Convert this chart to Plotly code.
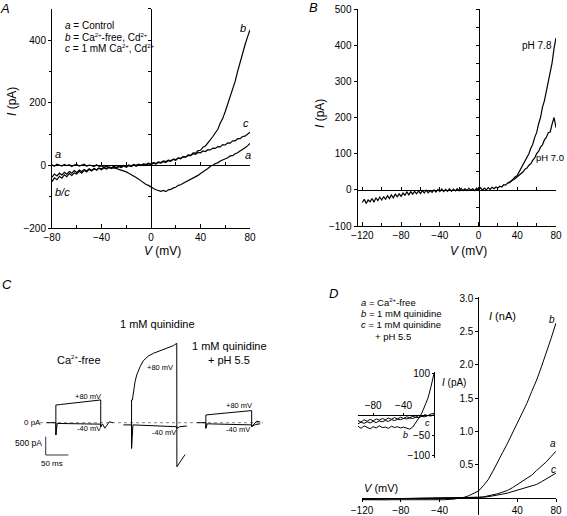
import plotly.graph_objects as go

W, H = 567, 516
FONT = "Liberation Sans, Arial, sans-serif"

# ---------------- DATA ----------------
# Panel A: I-V curves (pA) at V = -80..80 mV, 2 mV steps
V_A = list(range(-80, 81, 2))
A_control = [2, -3, 4, 0, -2, 3, -1, 2, -4, 1, 3, -2, 0, 4, -3, 1, -1, -4, 2, -3, -2,
             -6, -3, -8, -7, -8, -10, -13, -15, -19, -21,
             -25, -29, -33, -39, -44, -50, -55, -61, -64, -70,
             -74, -78, -80, -83, -80, -84, -78, -77, -72, -70,
             -64, -62, -57, -53, -48, -46, -40, -36, -32, -26,
             -21, -15, -10, -3, 0, 6, 8, 14, 17, 22,
             24, 30, 31, 37, 40, 46, 50, 56, 62, 70]
A_cafree = [-52, -40, -46, -35, -41, -30, -36, -26, -32, -24, -28,
            -19, -25, -16, -21, -13, -18, -11, -16, -9, -14,
            -8, -12, -6, -10, -5, -9, -4, -7, -2, -6,
            -1, -4, 1, -3, 2, -1, 3, 0, 5, 2,
            7, 4, 9, 7, 12, 9, 15, 13, 19, 16,
            23, 21, 28, 26, 33, 32, 40, 39, 47, 48,
            58, 62, 72, 80, 92, 104, 115, 135, 150, 172,
            195, 215, 245, 268, 300, 330, 355, 385, 410, 432]
A_1mMCa = [-38, -28, -34, -25, -31, -22, -28, -20, -25, -17, -23,
           -15, -20, -13, -18, -11, -16, -10, -14, -8, -12,
           -6, -10, -5, -8, -3, -7, -2, -5, 0, -4,
           1, -2, 3, 0, 4, 1, 5, 3, 7, 4,
           9, 6, 11, 9, 14, 12, 17, 15, 20, 18,
           24, 22, 28, 26, 32, 31, 37, 35, 41, 40,
           46, 44, 50, 49, 55, 54, 60, 59, 66, 65,
           72, 71, 78, 78, 85, 85, 92, 93, 100, 106]

# Panel B: pH 7.8 (full range) and pH 7.0 (diverging part), pA
V_B78 = list(range(-120, 81, 2))
B_pH78 = [-35, -26, -38, -28, -33, -24, -34, -22, -30, -20, -28, -19, -26, -16, -24, -14, -22, -12, -19, -11,
          -18, -9, -15, -6, -14, -5, -12, -4, -11, -3, -10, -2, -9, -1, -8, -2, -7, 0, -6, 1,
          -5, 2, -5, 1, -4, 3, -4, 2, -3, 3, -3, 4, -2, 3, -2, 4, -1, 3, -2, 5,
          0, 6, -1, 5, 0, 6, 1, 7, 3, 8, 5, 10, 8, 14, 13, 19, 20, 26, 29, 36,
          40, 50, 56, 68, 76, 90, 100, 115, 126, 145, 158, 182, 200, 228, 246, 272, 296, 325, 352, 392, 420]
V_B70 = list(range(30, 81, 2))
B_pH70 = [18, 21, 24, 28, 31, 36, 40, 46, 50, 57, 60, 68, 72, 82, 88, 100, 106, 118, 124, 138,
          145, 158, 160, 182, 200, 172]

# Panel C: current traces (time ms, current pA)
C_cafree_m40_t = [15, 35, 35, 38, 134, 134, 138, 143, 153, 161]
C_cafree_m40_i = [0, 0, -335, -20, -40, -110, -35, -150, 25, 0]
C_cafree_p80_t = [35, 35, 45, 65, 85, 105, 125, 134, 134]
C_cafree_p80_i = [-335, 482, 495, 525, 550, 575, 600, 620, -110]
C_quin_m40_t = [184, 202, 202, 205, 302, 302, 308, 324]
C_quin_m40_i = [-60, -60, -700, -60, -110, -160, -110, -90]
C_quin_p80_t = [202, 202, 203.8, 206, 209.7, 213.4, 220.8, 228, 239, 250, 265, 279.7, 294, 301.7, 302, 320]
C_quin_p80_i = [-700, 618, 618, 845, 1117, 1300, 1526, 1690, 1817, 1890, 1962, 2027, 2098, 2163, -1200, -870]
C_ph55_m40_t = [347, 366, 366, 369, 467, 467, 476, 486]
C_ph55_m40_i = [0, 0, -153, -30, -60, -100, -50, -30]
C_ph55_p80_t = [366, 366, 380, 400, 420, 440, 467, 467, 478, 486]
C_ph55_p80_i = [-153, 210, 228, 252, 278, 300, 330, -109, 40, 20]
C_zero_t = [0, 492]
SCALE_PA = 500
SCALE_MS = 50

# Panel D: I-V (nA), V = -120..80, 5 mV steps
V_D = list(range(-120, 81, 5))
D_a = [-0.022, -0.021, -0.021, -0.02, -0.02, -0.019, -0.018, -0.018, -0.017, -0.016, -0.015,
       -0.014, -0.013, -0.012, -0.011, -0.01, -0.009, -0.008, -0.007, -0.006, -0.005,
       -0.003, 0.0, 0.003, 0.006, 0.012, 0.025, 0.04, 0.06, 0.085, 0.11, 0.15, 0.2, 0.24,
       0.3, 0.34, 0.41, 0.47, 0.54, 0.62, 0.7]
D_b = [-0.03, -0.032, -0.03, -0.031, -0.03, -0.032, -0.03, -0.031, -0.03, -0.031, -0.03,
       -0.032, -0.03, -0.031, -0.03, -0.031, -0.03,
       -0.03, -0.028, -0.02, -0.008, 0.005, 0.03, 0.062, 0.1, 0.18, 0.27, 0.4, 0.55, 0.68,
       0.82, 0.96, 1.12, 1.27, 1.42, 1.6, 1.77, 1.97, 2.17, 2.4, 2.63]
D_c = [-0.024, -0.023, -0.023, -0.022, -0.021, -0.021, -0.02, -0.019, -0.018, -0.017, -0.016,
       -0.015, -0.014, -0.013, -0.012, -0.011, -0.01, -0.009, -0.008, -0.007, -0.006,
       -0.004, -0.002, 0.0, 0.003, 0.008, 0.015, 0.025, 0.04, 0.055, 0.07, 0.09, 0.11, 0.13,
       0.155, 0.18, 0.2, 0.24, 0.28, 0.32, 0.37]
# Inset (pA), V = -100..0, 4 mV steps
V_Di = list(range(-100, 1, 4))
Di_a = [-14, -18, -12, -16, -11, -15, -10, -13, -9, -12, -8, -11, -7, -10, -6, -9, -5, -7, -4, -6,
        -2, -4, 0, -2, 2, 3]
Di_b = [-28, -33, -27, -31, -34, -29, -32, -27, -31, -30, -33, -28, -31, -29, -32, -30,
        -32, -35, -30, -20, -8, 4, 20, 40, 68, 100]
Di_c = [-22, -18, -21, -17, -20, -16, -19, -15, -17, -14, -16, -12, -14, -11, -12, -9, -10, -8,
        -9, -6, -7, -4, -5, -2, -3, 0]


# ---------------- helpers ----------------
def px(x):
    return x / W


def py(y):
    return 1 - y / H


def ypos(val, rng, top, bot):
    pix = bot - (val - rng[0]) / (rng[1] - rng[0]) * (bot - top)
    return py(pix)


def xpos(val, rng, left, right):
    pix = left + (val - rng[0]) / (rng[1] - rng[0]) * (right - left)
    return px(pix)


fig = go.Figure()


def line(x, y, xa, ya, width=1, color="black", dash=None):
    fig.add_trace(go.Scatter(x=x, y=y, xaxis=xa, yaxis=ya, mode="lines",
                             line=dict(color=color, width=width, dash=dash),
                             showlegend=False, hoverinfo="skip"))


def dummy(xa, ya):
    fig.add_trace(go.Scatter(x=[None], y=[None], xaxis=xa, yaxis=ya, mode="lines",
                             showlegend=False, hoverinfo="skip"))


# Panel A
line(V_A, A_control, "x", "y", width=1.2)
line(V_A, A_cafree, "x", "y", width=1.2)
line(V_A, A_1mMCa, "x", "y", width=1.2)
dummy("x2", "y")
dummy("x", "y2")
# Panel B
line(V_B78, B_pH78, "x3", "y3", width=1.2)
line(V_B70, B_pH70, "x3", "y3", width=1.2)
dummy("x4", "y3")
dummy("x3", "y4")
# Panel C
line(C_zero_t, [0, 0], "x5", "y5", width=0.8, color="#666", dash="dot")
for t, i in [(C_cafree_m40_t, C_cafree_m40_i), (C_cafree_p80_t, C_cafree_p80_i),
             (C_quin_m40_t, C_quin_m40_i), (C_quin_p80_t, C_quin_p80_i),
             (C_ph55_m40_t, C_ph55_m40_i), (C_ph55_p80_t, C_ph55_p80_i)]:
    line(t, i, "x5", "y5")
sb_t, sb_i = 12.6, -380
line([sb_t, sb_t, sb_t + SCALE_MS], [sb_i, sb_i - SCALE_PA, sb_i - SCALE_PA], "x5", "y5", width=0.8)
# Panel D
line(V_D, D_a, "x6", "y6")
line(V_D, D_b, "x6", "y6")
line(V_D, D_c, "x6", "y6")
line(V_Di, Di_a, "x7", "y7")
line(V_Di, Di_c, "x7", "y7")
line(V_Di, Di_b, "x7", "y7")

base = dict(showgrid=False, zeroline=False, showline=True, linecolor="black", linewidth=1,
            tickcolor="black", tickwidth=1, ticklen=3, tickfont=dict(size=10, color="black"),
            automargin=False)

# Panel A geometry
A_x = [-80, 80]; A_l, A_r = 52, 250
A_y = [-200, 500]; A_t, A_b = 8.7, 228
# Panel B geometry
B_x = [-125, 80]; B_l, B_r = 357.5, 556
B_y = [-100, 500]; B_t, B_b = 9, 226
# Panel C geometry
C_x = [0, 492]; C_l, C_r = 40, 263
C_y = [-1300, 2300]; C_t, C_b = 338.3, 470.4
# Panel D geometry
D_x = [-120, 80]; D_l, D_r = 362, 556
D_y = [-0.26, 3.02]; D_t, D_b = 297, 515
I_x = [-100, 0]; I_l, I_r = 358, 434
I_y = [-105, 105]; I_t, I_b = 371.5, 458

layout = dict(
    xaxis=dict(base, domain=[px(A_l), px(A_r)], range=A_x, anchor="y",
               tickvals=[-80, -40, 0, 40, 80], ticks="inside", ticklen=4,
               minor=dict(tickvals=[-60, -20, 20, 60], ticks="inside", ticklen=3, tickcolor="black")),
    yaxis=dict(base, domain=[py(A_b), py(A_t)], range=A_y, anchor="x",
               tickvals=[-200, 0, 200, 400], ticks="outside",
               minor=dict(tickvals=[-100, 100, 300], ticks="outside", ticklen=2, tickcolor="black")),
    xaxis2=dict(base, overlaying="x", range=A_x, anchor="free",
                position=ypos(0, A_y, A_t, A_b), ticks="inside", tickmode="linear",
                tick0=0, dtick=20, showticklabels=False),
    yaxis2=dict(base, overlaying="y", range=A_y, anchor="free",
                position=xpos(0, A_x, A_l, A_r), ticks="outside", tickmode="linear",
                tick0=0, dtick=100, showticklabels=False),
    xaxis3=dict(base, domain=[px(B_l), px(B_r)], range=B_x, anchor="y3",
                tickvals=[-120, -80, -40, 0, 40, 80], ticks="inside", ticklen=4,
                minor=dict(tickvals=[-100, -60, -20, 20, 60], ticks="inside", ticklen=3, tickcolor="black")),
    yaxis3=dict(base, domain=[py(B_b), py(B_t)], range=B_y, anchor="x3",
                tickvals=[-100, 0, 100, 200, 300, 400, 500], ticks="outside"),
    xaxis4=dict(base, overlaying="x3", range=B_x, anchor="free",
                position=ypos(0, B_y, B_t, B_b), ticks="inside", tickmode="linear",
                tick0=0, dtick=20, showticklabels=False),
    yaxis4=dict(base, overlaying="y3", range=B_y, anchor="free",
                position=xpos(0, B_x, B_l, B_r), ticks="outside", tickmode="linear",
                tick0=0, dtick=50, showticklabels=False),
    xaxis5=dict(domain=[px(C_l), px(C_r)], range=C_x, anchor="y5", visible=False),
    yaxis5=dict(domain=[py(C_b), py(C_t)], range=C_y, anchor="x5", visible=False),
    xaxis6=dict(base, domain=[px(D_l), px(D_r)], range=D_x, anchor="free",
                position=ypos(0, D_y, D_t, D_b),
                tickvals=[-120, -80, -40, 40, 80], ticks="outside"),
    yaxis6=dict(base, domain=[py(D_b), py(D_t)], range=D_y, anchor="free",
                position=xpos(0, D_x, D_l, D_r),
                tickvals=[0.5, 1.0, 1.5, 2.0, 2.5, 3.0],
                ticktext=["0.5", "1.0", "1.5", "2.0", "2.5", "3.0"], ticks="outside"),
    xaxis7=dict(base, domain=[px(I_l), px(I_r)], range=I_x, anchor="free",
                position=ypos(0, I_y, I_t, I_b), side="top",
                tickvals=[-80, -40], ticks="outside", ticklen=2),
    yaxis7=dict(base, domain=[py(I_b), py(I_t)], range=I_y, anchor="free",
                position=px(I_r), side="left",
                tickvals=[100, -50, -100], ticks="outside", ticklen=2),
)

anns = []

SUP = '<sup><span style="font-size:6px">2+</span></sup>'


def ann(x, y, text, size=11, xanchor="center", angle=0, italic=False):
    if italic:
        text = "<i>" + text + "</i>"
    anns.append(dict(x=px(x), y=py(y), xref="paper", yref="paper", text=text,
                     showarrow=False, xanchor=xanchor, yanchor="middle", textangle=angle,
                     font=dict(size=size, color="black", family=FONT)))


# Panel A text
ann(5, 8, "A", 13, italic=True)
ann(63, 26, "<i>a</i> = Control", 10, "left")
ann(63, 37, "<i>b</i> = Ca" + SUP + "-free, Cd" + SUP, 10, "left")
ann(63, 49, "<i>c</i> = 1 mM Ca" + SUP + ", Cd" + SUP, 10, "left")
ann(58, 154, "a", 11, italic=True)
ann(62, 192, "b/c", 11, italic=True)
ann(243, 28, "b", 11, italic=True)
ann(246, 123, "c", 11, italic=True)
ann(248, 155, "a", 11, italic=True)
ann(12, 102, "<i>I</i> (pA)", 12, angle=-90)
ann(162, 251, "<i>V</i> (mV)", 12)
# Panel B text
ann(313, 7, "B", 13, italic=True)
ann(320, 114, "<i>I</i> (pA)", 12, angle=-90)
ann(468, 251, "<i>V</i> (mV)", 12)
ann(537, 45, "pH 7.8", 10)
ann(566, 157, "pH 7.0", 9.5, "right")
# Panel C text
ann(7, 284, "C", 13, italic=True)
ann(157, 324, "1 mM quinidine", 11)
ann(79, 360, "Ca" + SUP + "-free", 11)
ann(229, 346, "1 mM quinidine", 11)
ann(229, 360, "+ pH 5.5", 11)
ann(88, 396, "+80 mV", 7.5)
ann(160, 367, "+80 mV", 7.5)
ann(239, 405, "+80 mV", 7.5)
ann(89, 428, "-40 mV", 7.5)
ann(164, 432, "-40 mV", 7.5)
ann(238, 429, "-40 mV", 7.5)
ann(32, 422, "0 pA", 8)
ann(28, 443, "500 pA", 8.5)
ann(52, 463, "50 ms", 8)
# Panel D text
ann(333, 293, "D", 13, italic=True)
ann(359, 302, "<i>a</i> = Ca" + SUP + "-free", 9.5, "left")
ann(359, 313, "<i>b</i> = 1 mM quinidine", 9.5, "left")
ann(359, 324, "<i>c</i> = 1 mM quinidine", 9.5, "left")
ann(373, 336, "+ pH 5.5", 9.5, "left")
ann(487, 316, "<i>I</i> (nA)", 11, "left")
ann(362, 488, "<i>V</i> (mV)", 11, "left")
ann(440, 382, "<i>I</i> (pA)", 10, "left")
ann(552, 319, "b", 10, italic=True)
ann(553, 443, "a", 10, italic=True)
ann(553, 469, "c", 10, italic=True)
ann(405, 435, "b", 9, italic=True)
ann(427, 423, "c", 9, italic=True)

fig.update_layout(layout)
fig.update_layout(
    width=W, height=H, autosize=False,
    margin=dict(l=0, r=0, t=0, b=0, pad=0, autoexpand=False),
    paper_bgcolor="white", plot_bgcolor="rgba(0,0,0,0)",
    font=dict(family=FONT, color="black", size=10),
    showlegend=False, annotations=anns,
)

fig.write_html("out.html", config={"displayModeBar": False},
               post_script="document.body.style.margin='0';document.body.style.padding='0';"
                           "document.body.style.overflow='hidden';"
                           "document.documentElement.style.overflow='hidden';")
